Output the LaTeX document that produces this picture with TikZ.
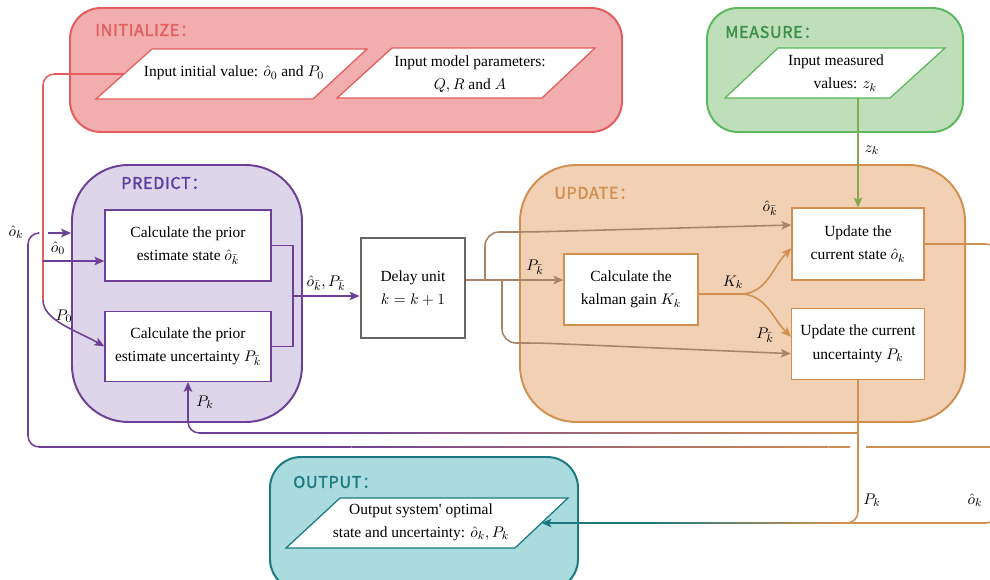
\documentclass[tikz,border=0pt]{standalone}
\usepackage{fontspec}
\setmainfont{Liberation Serif}
\newfontfamily\grpfont[LetterSpace=4,FakeBold=1.6]{Noto Sans CJK SC}
\usetikzlibrary{arrows.meta,positioning,fit,calc}

\definecolor{initred}{HTML}{E35D5D}
\definecolor{initfill}{HTML}{F2ADAF}
\definecolor{measgreen}{HTML}{5CB85C}
\definecolor{measfill}{HTML}{BEDFB9}
\definecolor{measlabel}{HTML}{3D8F47}
\definecolor{predpurple}{HTML}{6E3F96}
\definecolor{predfill}{HTML}{DDD5E9}
\definecolor{predlabel}{HTML}{5B3FA0}
\definecolor{updorange}{HTML}{D09050}
\definecolor{updfill}{HTML}{F2D0B3}
\definecolor{outteal}{HTML}{1C7A7E}
\definecolor{outfill}{HTML}{A9DBDF}
\definecolor{zgreen}{HTML}{86A84E}
\definecolor{delaybrown}{HTML}{A88468}

% straight wire from #1 to #2 whose colour runs from #3 into #4
\newcommand{\blendwire}[4]{%
  \foreach \i in {1,...,24}{%
    \pgfmathtruncatemacro{\wmix}{100*(\i-0.5)/24}%
    \draw[wire,color=#4!\wmix!#3] ($(#1)!{(\i-1)/24}!(#2)$) -- ($(#1)!{\i/24}!(#2)$);
  }}

\begin{document}
\begin{tikzpicture}[x=0.025cm,y=0.025cm,
    font=\fontsize{11}{16.5}\selectfont,
    wire/.style={line width=1.1pt},
    tip/.style={-{Stealth[length=7pt,width=6pt,inset=1.5pt]}},
    group/.style={line width=1.4pt,rounded corners=22pt,inner sep=0pt},
    biggroup/.style={group,rounded corners=40pt},
    grouplabel/.style={font=\grpfont\fontsize{11.5}{13}\selectfont,anchor=west,inner sep=0pt},
    stepbox/.style={draw,fill=white,line width=0.9pt,align=center,inner sep=2pt},
    iobox/.style={draw,fill=white,line width=0.9pt},
    lbl/.style={inner sep=1pt}]
  \useasboundingbox (0,0) rectangle (990,-579);

  % stage frames
  \node[group,draw=initred,fill=initfill,fit={(70,-8) (622,-132)}] (init) {};
  \node[group,draw=measgreen,fill=measfill,fit={(707,-8) (963,-132)}] (measure) {};
  \node[biggroup,draw=predpurple,fill=predfill,fit={(72,-165) (302,-422)}] (predict) {};
  \node[biggroup,draw=updorange,fill=updfill,fit={(520,-165) (965,-422)}] (update) {};
  \node[group,draw=outteal,fill=outfill,fit={(270,-457) (578,-590)}] (output) {};

  \node[grouplabel,text=initred] (initlbl) at (95,-30) {INITIALIZE：};
  \node[grouplabel,text=measlabel] (measlbl) at (725,-32) {MEASURE：};
  \node[grouplabel,text=predlabel] (predlbl) at (121,-183) {PREDICT：};
  \node[grouplabel,text=updorange] (updlbl) at (554,-193) {UPDATE：};
  \node[grouplabel,text=outteal] (outlbl) at (293,-482) {OUTPUT：};

  % input / output parallelograms
  \draw[iobox,draw=initred] (96,-99) coordinate (iv-bl) -- (152,-49) coordinate (iv-tl)
    -- (367,-49) -- (313,-99) -- cycle;
  \draw[iobox,draw=initred] (337,-98) -- (392,-48) -- (595,-48) -- (542,-98) -- cycle;
  \draw[iobox,draw=measgreen] (725,-98) coordinate (mv-bl) -- (778,-48)
    -- (945,-48) -- (890,-98) coordinate (mv-br) -- cycle;
  \draw[iobox,draw=outteal] (286,-548) -- (340,-498) -- (568,-498) coordinate (op-tr)
    -- (515,-548) coordinate (op-br) -- cycle;
  \coordinate (iv-in) at ($(iv-bl)!.5!(iv-tl)$);
  \coordinate (op-in) at ($(op-br)!.5!(op-tr)$);

  \node (initval) at (234,-73) {Input initial value: $\hat{o}_0$ and $P_0$};
  \node[align=center] (modelpar) at (470,-74) {Input model parameters:\\$Q,R$ and $A$};
  \node[align=center] (measval) at (836,-73) {Input measured\\\hspace{1.2em}values: $z_k$};
  \node[align=center] (outval) at (421,-522)
    {Output system\textquotesingle\ optimal\\state and uncertainty: $\hat{o}_k,P_k$};

  % processing steps
  \node[stepbox,draw=predpurple,minimum width=4.15cm,minimum height=1.775cm] (prior) at (188,-245.5)
    {Calculate the prior\\estimate state $\hat{o}_{\bar{k}}$};
  \node[stepbox,draw=predpurple,minimum width=4.15cm,minimum height=1.75cm,below=0.725cm of prior] (priorP)
    {Calculate the prior\\estimate uncertainty $P_{\bar{k}}$};
  \node[stepbox,draw=black!60,line width=2.1pt,minimum width=2.6cm,minimum height=2.5cm] (delay) at (413,-288)
    {Delay unit\\$k=k+1$};
  \node[stepbox,draw=updorange,minimum width=3.35cm,minimum height=1.775cm] (kalman) at (631,-289.5)
    {Calculate the\\kalman gain $K_k$};
  \node[stepbox,draw=updorange,minimum width=3.3cm,minimum height=1.8cm] (state) at (858,-244)
    {Update the\\current state $\hat{o}_k$};
  \node[stepbox,draw=updorange,minimum width=3.325cm,minimum height=1.775cm,below=0.675cm of state] (uncert)
    {Update the current\\uncertainty $P_k$};

  % feedback loops along the bottom
  \coordinate (eR) at (997,-523);
  \coordinate (cO) at (840,-523);
  \coordinate (cT) at (650,-523);
  \draw[wire,updorange] (997,-447) -- (866,-447);
  \blendwire{850,-447}{330,-447}{updorange}{predpurple}
  \draw[wire,predpurple,rounded corners=8pt] (330,-447) -| (28,-233) -- (38,-233);
  \draw[wire,tip,predpurple] (48,-233) -- (predict.west |- 0,-233);
  \blendwire{858,-433}{330,-433}{updorange}{predpurple}
  \draw[wire,tip,predpurple,rounded corners=8pt] (330,-433) -| (priorP.south);
  \draw[wire,updorange,rounded corners=8pt] (uncert.south) |- (cO);
  \draw[wire,updorange,rounded corners=8pt] (state.east) -| (eR) -- (cO);
  \blendwire{cO}{cT}{updorange}{outteal}
  \draw[wire,tip,outteal] (cT) -- (op-in);

  % initial values into the prediction
  \coordinate (rdown) at (43,-300);
  \coordinate (rmid) at (43,-261);
  \draw[wire,initred,rounded corners=8pt] (iv-in) -| (rdown);
  \draw[wire,tip,predpurple] (rdown) .. controls (43,-320) and (75,-330) .. (priorP.west);
  \draw[wire,tip,predpurple] (rmid) -- (rmid -| prior.west);

  % prediction -> delay
  \coordinate (pjoin) at (293,-296);
  \draw[wire,predpurple] (prior.east) -| (pjoin) |- (priorP.east);
  \draw[wire,tip,predpurple] (pjoin) -- (pjoin -| delay.west);

  % delay -> update
  \coordinate (dsplit) at (485,-280);
  \coordinate (dlow) at (502,-280);
  \draw[wire,delaybrown] (delay.east |- dsplit) -- (dsplit);
  \draw[wire,tip,delaybrown] (dsplit) -- (kalman.west |- dsplit);
  \draw[wire,tip,delaybrown,rounded corners=10pt] (dsplit) |- (530,-232) -- ([yshift=13.5pt]state.west);
  \draw[wire,tip,delaybrown,rounded corners=10pt] (dlow) |- (540,-343) -- ([yshift=-7pt]uncert.west);

  % kalman gain into both updates
  \coordinate (ksplit) at (740,-294);
  \draw[wire,updorange] (kalman.east |- ksplit) -- (ksplit);
  \draw[wire,tip,updorange] (ksplit) to[out=0,in=225] ([yshift=-3pt]state.west);
  \draw[wire,tip,updorange] (ksplit) to[out=0,in=135] ([yshift=5pt]uncert.west);

  % measurement
  \draw[wire,tip,zgreen] (state.north |- mv-br) -- (state.north);

  % wire labels
  \node[lbl] (okfb) at (16,-232) {$\hat{o}_k$};
  \node[lbl] (ozero) at (58,-248) {$\hat{o}_0$};
  \node[lbl] (pzero) at (64,-316) {$P_0$};
  \node[lbl] (pkfb) at (205,-402) {$P_k$};
  \node[lbl] (ppair) at (326,-283) {$\hat{o}_{\bar{k}},P_{\bar{k}}$};
  \node[lbl] (pbar) at (535,-267) {$P_{\bar{k}}$};
  \node[lbl] (obar) at (770,-208) {$\hat{o}_{\bar{k}}$};
  \node[lbl] (gain) at (733,-282) {$K_k$};
  \node[lbl] (pbarlow) at (765,-335) {$P_{\bar{k}}$};
  \node[lbl] (zlbl) at (872,-150) {$z_k$};
  \node[lbl] (pkout) at (872,-500) {$P_k$};
  \node[lbl] (okout) at (975,-500) {$\hat{o}_k$};
\end{tikzpicture}
\end{document}
